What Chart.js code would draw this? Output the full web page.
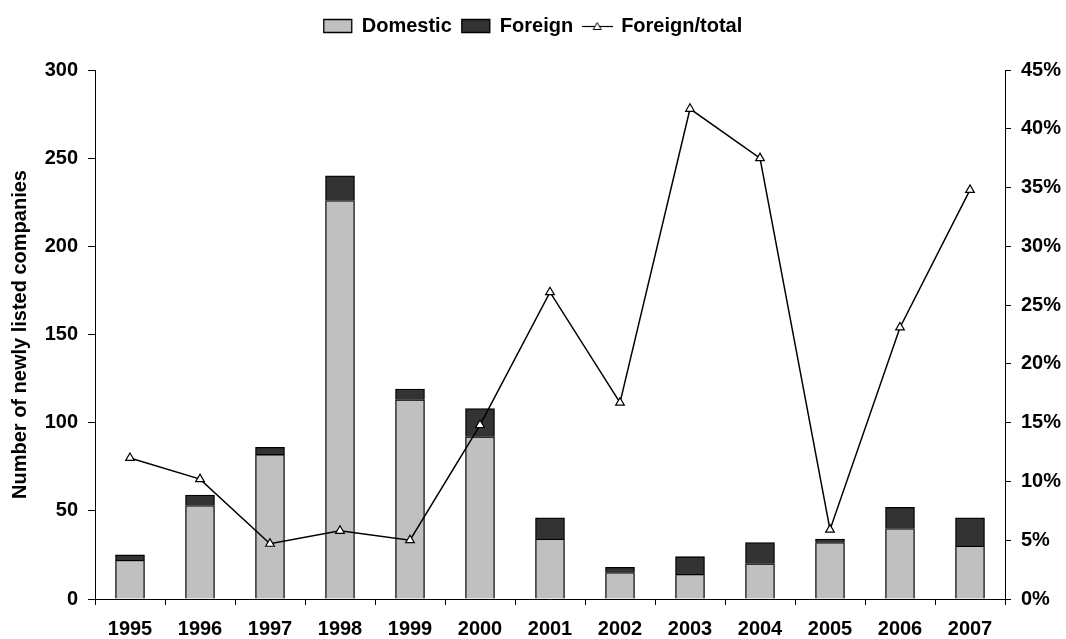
<!DOCTYPE html>
<html>
<head>
<meta charset="utf-8">
<title>Newly listed companies</title>
<script src="https://cdn.jsdelivr.net/npm/chart.js@4/dist/chart.umd.min.js"></script>
<style>
  html, body { margin: 0; padding: 0; background: #fff; }
  #wrap { width: 1066px; height: 639px; position: relative; }
</style>
</head>
<body>
<div id="wrap"><canvas id="listingChart"></canvas></div>
<script>
// Values
const years = ['1995', '1996', '1997', '1998', '1999', '2000', '2001', '2002', '2003', '2004', '2005', '2006', '2007'];
const domestic = [22, 53, 82, 226, 113, 92, 34, 15, 14, 20, 32, 40, 30];
const foreign = [3, 6, 4, 14, 6, 16, 12, 3, 10, 12, 2, 12, 16];
const foreignShare = [12.0, 10.2, 4.7, 5.8, 5.0, 14.8, 26.1, 16.7, 41.7, 37.5, 5.9, 23.1, 34.8];

const countMax = 300;
const countStep = 50;
const shareMax = 45;
const shareStep = 5;

const FONT = "'Liberation Sans', Arial, sans-serif";

document.addEventListener('DOMContentLoaded', function() {
    initListingChart();
});

// little legend icon: a line with a triangle marker in the middle
function makeLineIcon() {
    const c = document.createElement('canvas');
    c.width = 31;
    c.height = 14;
    const g = c.getContext('2d');
    g.strokeStyle = '#000';
    g.lineWidth = 1.2;
    g.beginPath();
    g.moveTo(0, 7.5);
    g.lineTo(31, 7.5);
    g.stroke();
    g.beginPath();
    g.moveTo(15.5, 3.5);
    g.lineTo(19.5, 10.5);
    g.lineTo(11.5, 10.5);
    g.closePath();
    g.fillStyle = '#fff';
    g.fill();
    g.lineWidth = 1;
    g.stroke();
    return c;
}

// push the plot area down below the legend
const legendGap = {
    id: 'legendGap',
    beforeInit(chart) {
        const origFit = chart.legend.fit;
        chart.legend.fit = function() {
            origFit.bind(chart.legend)();
            this.height += 24;
        };
    }
};

function initListingChart() {
    const ctx = document.getElementById('listingChart').getContext('2d');
    const lineIcon = makeLineIcon();

    const tickFont = { family: FONT, size: 20, weight: 'bold' };

    new Chart(ctx, {
        type: 'bar',
        data: {
            labels: years,
            datasets: [{
                label: 'Domestic',
                data: domestic,
                backgroundColor: '#c0c0c0',
                borderColor: '#000',
                borderWidth: 1.3,
                barThickness: 29,
                yAxisID: 'y',
                order: 1
            }, {
                label: 'Foreign',
                data: foreign,
                backgroundColor: '#333333',
                borderColor: '#000',
                borderWidth: 1.3,
                barThickness: 29,
                yAxisID: 'y',
                order: 1
            }, {
                type: 'line',
                label: 'Foreign/total',
                data: foreignShare,
                borderColor: '#000',
                borderWidth: 1.5,
                tension: 0,
                pointStyle: 'triangle',
                pointRadius: 5,
                pointBackgroundColor: '#fff',
                pointBorderColor: '#000',
                pointBorderWidth: 1.2,
                yAxisID: 'y1',
                order: 0
            }]
        },
        plugins: [legendGap],
        options: {
            responsive: true,
            maintainAspectRatio: false,
            animation: false,
            layout: { padding: { top: 6 } },
            plugins: {
                tooltip: { enabled: false },
                legend: {
                    position: 'top',
                    labels: {
                        color: '#000',
                        font: { family: FONT, size: 20, weight: 'bold' },
                        padding: 10,
                        boxHeight: 13,
                        usePointStyle: true,
                        pointStyleWidth: 28,
                        generateLabels: function(chart) {
                            return chart.data.datasets.map((ds, i) => ({
                                text: ds.label,
                                datasetIndex: i,
                                hidden: false,
                                fillStyle: ds.type === 'line' ? '#fff' : ds.backgroundColor,
                                strokeStyle: '#000',
                                lineWidth: 1.3,
                                fontColor: '#000',
                                pointStyle: ds.type === 'line' ? lineIcon : 'rect'
                            }));
                        }
                    }
                }
            },
            scales: {
                x: {
                    stacked: true,
                    offset: true,
                    afterFit: function(scale) { scale.height = 40; },
                    border: { display: true, color: '#000', width: 1 },
                    grid: {
                        offset: true,
                        drawOnChartArea: false,
                        drawTicks: true,
                        tickLength: 6,
                        color: '#000'
                    },
                    ticks: { color: '#000', font: tickFont, padding: 12, maxRotation: 0 }
                },
                y: {
                    stacked: true,
                    position: 'left',
                    min: 0,
                    max: countMax,
                    afterFit: function(scale) { scale.width = 95; },
                    border: { display: true, color: '#000', width: 1 },
                    grid: {
                        drawOnChartArea: false,
                        drawTicks: true,
                        tickLength: 7,
                        color: '#000'
                    },
                    ticks: { color: '#000', font: tickFont, stepSize: countStep, padding: 10 },
                    title: {
                        display: true,
                        text: 'Number of newly listed companies',
                        color: '#000',
                        font: tickFont,
                        padding: { top: 8, bottom: 0 }
                    }
                },
                y1: {
                    position: 'right',
                    min: 0,
                    max: shareMax,
                    afterFit: function(scale) { scale.width = 61; },
                    border: { display: true, color: '#000', width: 1 },
                    grid: {
                        drawOnChartArea: false,
                        drawTicks: true,
                        tickLength: 6,
                        color: '#000'
                    },
                    ticks: {
                        color: '#000',
                        font: tickFont,
                        stepSize: shareStep,
                        padding: 10,
                        callback: function(value) { return value + '%'; }
                    }
                }
            }
        }
    });
}
</script>
</body>
</html>
